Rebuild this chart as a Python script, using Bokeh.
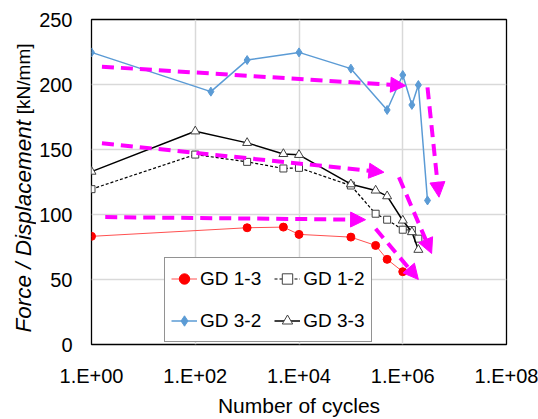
import math
from bokeh.plotting import figure
from bokeh.layouts import row
from bokeh.models import (Range1d, FixedTicker, CustomJSTickFormatter, Legend, LegendItem,
                          Arrow, NormalHead, ColumnDataSource)
from bokeh.core.properties import value
from bokeh.embed import file_html
from bokeh.resources import INLINE

# ---- data ----
cycles_13 = [1, 1000, 5000, 10000, 100000, 300000, 500000, 1000000]
force_13 = [83.2, 89.8, 90.3, 84.7, 82.6, 76.2, 65.5, 56.0]

cycles_12 = [1, 100, 1000, 5000, 10000, 100000, 300000, 500000, 1000000, 1500000, 2000000]
force_12 = [119.5, 146.1, 140.5, 135.4, 135.9, 122.3, 100.6, 96.0, 88.3, 88.0, 81.4]

cycles_32 = [1, 200, 1000, 10000, 100000, 500000, 1000000, 1500000, 2000000, 3000000]
force_32 = [224.7, 194.5, 218.8, 224.7, 212.2, 180.4, 207.3, 184.3, 199.6, 110.8]

cycles_33 = [1, 100, 1000, 5000, 10000, 100000, 300000, 500000, 1000000, 1500000, 2000000]
force_33 = [133.0, 164.0, 155.1, 146.6, 145.9, 123.3, 118.5, 114.1, 95.4, 86.5, 72.9]

# trend arrows (annotations)
arrow_x_start = [1.59, 3.0e6, 1.59, 8.45e5, 1.84, 3.0e5]
arrow_y_start = [213.7, 197.8, 154.8, 128.7, 98.0, 89.0]
arrow_x_end = [1.14e6, 5.0e6, 4.34e5, 3.6e6, 1.92e5, 2.0e6]
arrow_y_end = [199.1, 113.3, 132.5, 70.0, 96.0, 50.0]

x_tick_values = [1, 1e2, 1e4, 1e6, 1e8]
x_tick_labels = ["1.E+00", "1.E+02", "1.E+04", "1.E+06", "1.E+08"]
y_tick_values = [0, 50, 100, 150, 200, 250]

y_label_italic = "Force / Displacement"
y_label_unit = "[kN/mm]"
x_label = "Number of cycles"

FONT = "Liberation Sans"
LABEL_W = 36
TOP, BOTTOM, H = 19, 75, 419

# ---- left strip holding the two-style y axis title ----
# its frame is given the same top/bottom borders as the chart, and a pixel range
lab = figure(width=LABEL_W, height=H, x_range=Range1d(0, LABEL_W), y_range=Range1d(BOTTOM, H - TOP),
             output_backend="svg", toolbar_location=None,
             min_border_left=0, min_border_right=0, min_border_top=TOP, min_border_bottom=BOTTOM)
lab.axis.visible = False
lab.grid.visible = False
lab.outline_line_color = None
lab.background_fill_color = "white"
lab.border_fill_color = "white"
lab.text(x=[22.5], y=[H - 332], text=[y_label_italic], angle=math.pi / 2,
         text_font=value(FONT), text_font_size="22.5px", text_font_style="italic",
         text_align="left", text_baseline="middle", text_color="black")
lab.text(x=[22.5], y=[H - 43], text=[y_label_unit], angle=math.pi / 2,
         text_font=value(FONT), text_font_size="19px",
         text_align="right", text_baseline="middle", text_color="black")

# ---- main chart ----
p = figure(width=538 - LABEL_W, height=H, x_axis_type="log",
           x_range=Range1d(1, 1e8), y_range=Range1d(0, 250),
           output_backend="svg", toolbar_location=None,
           min_border_left=91 - LABEL_W, min_border_right=32, min_border_top=TOP, min_border_bottom=BOTTOM)

p.background_fill_color = "white"
p.border_fill_color = "white"
p.outline_line_color = "black"
p.outline_line_width = 1.3

# grid
p.xgrid.ticker = FixedTicker(ticks=x_tick_values)
p.ygrid.ticker = FixedTicker(ticks=y_tick_values)
p.xgrid.grid_line_color = "#d9d9d9"
p.ygrid.grid_line_color = "#d9d9d9"
p.xgrid.grid_line_width = 1.5
p.ygrid.grid_line_width = 1.5

# axes
p.xaxis.ticker = FixedTicker(ticks=x_tick_values)
p.xaxis.formatter = CustomJSTickFormatter(args=dict(vals=x_tick_values, labs=x_tick_labels), code="""
for (let i = 0; i < vals.length; i++) {
  if (Math.abs(Math.log10(tick) - Math.log10(vals[i])) < 1e-6) return labs[i];
}
return "";
""")
p.yaxis.ticker = FixedTicker(ticks=y_tick_values)
for ax in (p.xaxis[0], p.yaxis[0]):
    ax.axis_line_color = None
    ax.major_tick_line_color = None
    ax.minor_tick_line_color = None
    ax.major_tick_out = 0
    ax.major_tick_in = 0
    ax.major_label_text_font = FONT
    ax.major_label_text_font_size = "20px"
    ax.major_label_text_color = "black"
p.xaxis.major_label_standoff = 20
p.yaxis.major_label_standoff = 19
p.xaxis.axis_label = x_label
p.xaxis.axis_label_text_font = FONT
p.xaxis.axis_label_text_font_size = "21px"
p.xaxis.axis_label_text_font_style = "normal"
p.xaxis.axis_label_text_color = "black"
p.xaxis.axis_label_standoff = 4

# arrows
arrow_src = ColumnDataSource(dict(xs=arrow_x_start, ys=arrow_y_start, xe=arrow_x_end, ye=arrow_y_end))
MAG = "#ff00ff"
p.add_layout(Arrow(source=arrow_src, x_start="xs", y_start="ys", x_end="xe", y_end="ye",
                   line_color=MAG, line_width=4, line_dash="12 7",
                   end=NormalHead(size=15, fill_color=MAG, line_color=MAG, line_width=1)))

# series
l13 = p.line(cycles_13, force_13, line_color="#ff5050", line_width=1)
s13 = p.scatter(cycles_13, force_13, marker="circle", size=8, fill_color="#ff0000", line_color="#ff0000")

l12 = p.line(cycles_12, force_12, line_color="black", line_width=1.2, line_dash="3 2")
s12 = p.scatter(cycles_12, force_12, marker="square", size=7, fill_color="white", line_color="#404040", line_width=1)

l32 = p.line(cycles_32, force_32, line_color="#5b9bd5", line_width=1.5)
s32 = p.scatter(cycles_32, force_32, marker="diamond", size=9, fill_color="#5b9bd5", line_color="#5b9bd5")

l33 = p.line(cycles_33, force_33, line_color="black", line_width=1.5)
s33 = p.scatter(cycles_33, force_33, marker="triangle", size=9, fill_color="white", line_color="#404040", line_width=1)

legend = Legend(items=[
    LegendItem(label="GD 1-3", renderers=[l13, s13]),
    LegendItem(label="GD 3-2", renderers=[l32, s32]),
    LegendItem(label="GD 1-2", renderers=[l12, s12]),
    LegendItem(label="GD 3-3", renderers=[l33, s33]),
], location=(73, 2), ncols=2, margin=0, padding=6, spacing=13,
    glyph_width=26, glyph_height=29, label_height=29, label_standoff=3,
    label_text_font=FONT, label_text_font_size="19px", label_text_color="black",
    border_line_color="#262626", border_line_width=1, background_fill_color="white",
    background_fill_alpha=1)
p.add_layout(legend, "center")

layout = row(lab, p, spacing=0)
open("out.html", "w").write(file_html(layout, INLINE))
